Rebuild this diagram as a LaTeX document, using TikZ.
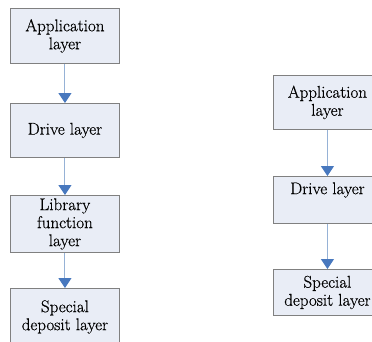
\documentclass[tikz,border=0pt]{standalone}
\usepackage{fontspec}
\newfontfamily\boxfont[FakeBold=0.5]{Latin Modern Roman}
\usetikzlibrary{arrows.meta}
\definecolor{boxfill}{RGB}{233,237,246}
\definecolor{boxline}{RGB}{128,128,128}
\definecolor{linkblue}{RGB}{150,178,214}
\definecolor{headblue}{RGB}{72,120,190}
\begin{document}
\begin{tikzpicture}[x=1pt,y=-1pt,
  layerbox/.style={draw=boxline, fill=boxfill, line width=0.9pt, align=center,
    font=\boxfont\fontsize{17}{18}\selectfont, inner sep=0pt, anchor=north west,
    minimum width=109pt},
  rbox/.style={layerbox, minimum width=108pt},
  link/.style={draw=linkblue, line width=1pt,
    -{Triangle[length=10pt,width=13pt,color=headblue]}}]
\useasboundingbox (0,0) rectangle (372,341);
\clip (0,0) rectangle (372,341);
% left stack
\node[layerbox, minimum height=55pt] (a1) at (10,8) {Application\\layer};
\node[layerbox, minimum height=54pt] (a2) at (10,103) {Drive layer};
\node[layerbox, minimum height=57pt] (a3) at (10,195) {Library\\function\\layer};
\node[layerbox, minimum height=57pt] (a4) at (10,288) {Special\\deposit layer};
\draw[link] (a1) -- (a2);
\draw[link] (a2) -- (a3);
\draw[link] (a3) -- (a4);
% right stack
\node[rbox, minimum height=54pt] (b1) at (273,75) {Application\\layer};
\node[rbox, minimum height=47pt] (b2) at (273,176) {Drive layer\\\strut};
\node[rbox, minimum height=46pt] (b3) at (273,269) {Special\\deposit layer};
\draw[link] (b1) -- (b2);
\draw[link] (b2) -- (b3);
\end{tikzpicture}
\end{document}
